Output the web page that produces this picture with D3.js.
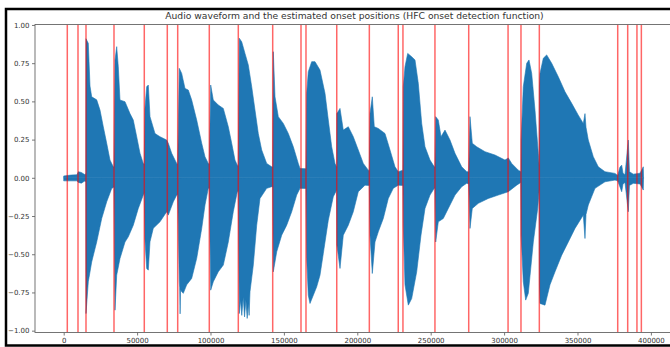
<!DOCTYPE html>
<html>
<head>
<meta charset="utf-8">
<script src="https://cdn.jsdelivr.net/npm/d3@7"></script>
<style>
  body { margin: 0; background: #fff; }
  text { font-family: "DejaVu Sans", sans-serif; }
</style>
</head>
<body>
<div id="chart"></div>
<script>
// waveform envelope: [sample index, amplitude]
let upperEnvelope = [
  [0, 0.012], [5000, 0.018], [9000, 0.02], [10000, 0.04], [12000, 0.035], [14500, 0.02], [15100, 0.03],
  [15200, 0.91], [16760, 0.88], [17920, 0.6], [19070, 0.53], [22480, 0.51], [24730, 0.443],
  [26980, 0.334], [29290, 0.226], [31540, 0.116], [33790, 0.072],
  [34250, 0.07], [34950, 0.77], [36100, 0.858], [37190, 0.727], [38350, 0.509], [41760, 0.498],
  [45160, 0.42], [47410, 0.378], [49730, 0.269], [51980, 0.16], [54220, 0.094],
  [54900, 0.09], [55300, 0.45], [56540, 0.596], [57630, 0.607], [58790, 0.4], [62190, 0.29],
  [65600, 0.269], [70160, 0.247], [71250, 0.226], [73570, 0.16], [76980, 0.094],
  [77660, 0.09], [78750, 0.716], [80380, 0.683], [82630, 0.585], [84880, 0.574], [87190, 0.509],
  [90600, 0.378], [94010, 0.226], [96250, 0.138], [98500, 0.094],
  [99180, 0.09], [100140, 0.607], [101910, 0.509], [105310, 0.476], [108720, 0.454],
  [112130, 0.334], [114440, 0.226], [116690, 0.116], [118260, 0.083],
  [118940, 0.08], [119620, 0.913], [121250, 0.89], [123500, 0.814], [125750, 0.738],
  [128070, 0.596], [130310, 0.443], [132560, 0.29], [134880, 0.182], [138280, 0.094], [141690, 0.072],
  [142370, 0.07], [142780, 0.825], [143940, 0.53], [146190, 0.4], [149590, 0.356], [153000, 0.29],
  [156410, 0.203], [159810, 0.094], [160970, 0.061], [165050, 0.06],
  [165530, 0.553], [166620, 0.694], [167780, 0.727], [168940, 0.76], [171190, 0.76], [174590, 0.705],
  [178000, 0.553], [180250, 0.378], [182560, 0.203], [184810, 0.094],
  [186000, 0.07], [186100, 0.42], [188220, 0.454], [190460, 0.312], [193870, 0.334],
  [197270, 0.269], [200680, 0.182], [204090, 0.094], [207500, 0.05],
  [208200, 0.05], [208650, 0.42], [210220, 0.53], [211580, 0.334], [214310, 0.323], [218870, 0.29],
  [222280, 0.182], [225680, 0.072], [227930, 0.04], [231100, 0.05],
  [231340, 0.596], [232490, 0.727], [234330, 0.814], [237060, 0.792], [239310, 0.771],
  [241560, 0.618], [243870, 0.356], [246120, 0.203], [249530, 0.116], [252450, 0.072],
  [252900, 0.07], [253410, 0.4], [255180, 0.378], [257020, 0.269], [259740, 0.312], [263150, 0.247],
  [266560, 0.16], [271120, 0.072], [274520, 0.04],
  [275900, 0.04], [276770, 0.4], [278340, 0.226], [281340, 0.203], [286990, 0.171], [293800, 0.149],
  [300610, 0.116], [302860, 0.13], [305180, 0.094], [309670, 0.05], [311500, 0.04],
  [311600, 0.247], [313080, 0.596], [315400, 0.749], [316960, 0.771], [318800, 0.683],
  [321050, 0.443], [323300, 0.16], [323900, 0.08],
  [324100, 0.6], [324460, 0.683], [326700, 0.782], [329020, 0.804], [332430, 0.749], [336920, 0.661],
  [341490, 0.563], [346050, 0.487], [350540, 0.41], [353950, 0.356], [355110, 0.42], [355800, 0.33],
  [357360, 0.247], [360760, 0.138], [364170, 0.072], [368730, 0.04], [375540, 0.029],
  [377380, 0.015], [378950, 0.07], [380110, 0.083], [381000, 0.03], [382360, 0.02], [384610, 0.247],
  [385400, 0.04], [388000, 0.024], [392600, 0.03], [394820, 0.072], [395000, 0]
];

let lowerEnvelope = [
  [0, -0.02], [5000, -0.02], [9000, -0.02], [10000, -0.03], [12000, -0.035], [14500, -0.02], [15100, -0.03],
  [15200, -0.888], [16760, -0.68], [19070, -0.55], [22480, -0.42], [25890, -0.266], [29290, -0.157],
  [32700, -0.07],
  [34250, -0.06], [34950, -0.866], [36100, -0.637], [38350, -0.528], [41760, -0.42], [44010, -0.386],
  [47410, -0.31], [50820, -0.2], [54220, -0.113],
  [54900, -0.1], [55300, -0.4], [56540, -0.593], [57630, -0.604], [58790, -0.418], [61040, -0.33],
  [65600, -0.288], [70160, -0.222], [71250, -0.244], [74660, -0.157], [76980, -0.113],
  [77660, -0.11], [78750, -0.68], [79000, -0.72], [79300, -0.89], [79600, -0.73], [80380, -0.745],
  [81470, -0.756], [83790, -0.7], [87190, -0.658], [90600, -0.527], [94010, -0.331], [96250, -0.178],
  [98500, -0.069],
  [99180, -0.07], [100140, -0.735], [101910, -0.68], [105310, -0.615], [108720, -0.571],
  [112130, -0.42], [115530, -0.222], [118260, -0.091],
  [118940, -0.09], [119620, -0.888], [120500, -0.8], [121300, -0.9], [122300, -0.78], [123200, -0.91],
  [124100, -0.8], [125000, -0.92], [125750, -0.82], [126300, -0.9], [126910, -0.745], [129160, -0.571],
  [131470, -0.31], [133720, -0.135], [138280, -0.069], [141690, -0.058],
  [142370, -0.06], [142780, -0.615], [145100, -0.484], [148500, -0.375], [151910, -0.31],
  [155310, -0.222], [158720, -0.113], [160970, -0.069], [165050, -0.07],
  [165530, -0.527], [166620, -0.768], [167780, -0.822], [172340, -0.713], [174590, -0.637],
  [176840, -0.495], [180250, -0.277], [183650, -0.124], [185970, -0.08],
  [186100, -0.44], [188220, -0.593], [190460, -0.375], [193870, -0.31], [197270, -0.222],
  [200680, -0.091], [205250, -0.048],
  [208200, -0.05], [208650, -0.375], [210220, -0.626], [212060, -0.42], [214310, -0.353],
  [217710, -0.266], [221120, -0.135], [224520, -0.069], [227930, -0.048], [231100, -0.05],
  [231340, -0.31], [232490, -0.7], [234750, -0.833], [237060, -0.79], [240460, -0.615],
  [243390, -0.375], [246120, -0.2], [249530, -0.113], [252450, -0.069],
  [252900, -0.07], [253410, -0.42], [255180, -0.288], [258580, -0.266], [261990, -0.2],
  [266560, -0.113], [271120, -0.058], [274520, -0.036],
  [275900, -0.04], [276770, -0.331], [278340, -0.2], [282430, -0.167], [289240, -0.135],
  [296050, -0.113], [302860, -0.091], [308580, -0.048], [311400, -0.03],
  [311600, -0.375], [313080, -0.68], [314710, -0.8], [316490, -0.756], [319900, -0.42],
  [322890, -0.2], [323900, -0.08],
  [324100, -0.7], [324460, -0.822], [327860, -0.833], [331270, -0.7], [334680, -0.615],
  [339240, -0.506], [343730, -0.42], [348300, -0.331], [353950, -0.244], [355110, -0.397],
  [355800, -0.24], [357360, -0.178], [361920, -0.069], [368730, -0.026], [375540, -0.015],
  [377380, -0.02], [378950, -0.06], [380110, -0.091], [381000, -0.04], [382360, -0.03],
  [384610, -0.222], [385400, -0.05], [388000, -0.036], [392600, -0.04], [394820, -0.08], [395000, 0]
];

// estimated onset positions (samples)
let onsets = [2450, 9740, 15190, 34260, 54900, 70570, 77660, 99180, 118940, 142370,
  161650, 165050, 186000, 208200, 227900, 231100, 252900, 275900, 302700, 311500,
  324000, 377400, 384200, 390500, 393500];

let xTicks = [0, 50000, 100000, 150000, 200000, 250000, 300000, 350000, 400000];
let yTicks = [-1.0, -0.75, -0.5, -0.25, 0.0, 0.25, 0.5, 0.75, 1.0];
let title = "Audio waveform and the estimated onset positions (HFC onset detection function)";

let W = 670, H = 347;
let plot = {left: 35, right: 674, top: 24.5, bottom: 332.5};

let svg = d3.select("#chart")
    .append("svg")
    .attr("width", W)
    .attr("height", H);

let x = d3.scaleLinear().domain([-19550, 415740]).range([plot.left, plot.right]);
let y = d3.scaleLinear().domain([-1.012, 1.003]).range([plot.bottom, plot.top]);

svg.append("clipPath").attr("id", "plotclip")
    .append("rect")
    .attr("x", plot.left).attr("y", plot.top)
    .attr("width", plot.right - plot.left).attr("height", plot.bottom - plot.top);

let g = svg.append("g").attr("clip-path", "url(#plotclip)");

let area = d3.area()
    .x(function(d) { return x(d[0]); })
    .y0(y(0))
    .y1(function(d) { return y(d[1]); });

g.append("path")
    .datum(upperEnvelope)
    .attr("fill", "#1f77b4")
    .attr("stroke", "#1f77b4")
    .attr("stroke-width", 0.6)
    .attr("d", area);

g.append("path")
    .datum(lowerEnvelope)
    .attr("fill", "#1f77b4")
    .attr("stroke", "#1f77b4")
    .attr("stroke-width", 0.6)
    .attr("d", area);

// onset markers (axvline)
g.selectAll(".onset")
    .data(onsets)
    .enter().append("line")
    .attr("class", "onset")
    .attr("x1", function(d) { return x(d); })
    .attr("x2", function(d) { return x(d); })
    .attr("y1", plot.top)
    .attr("y2", plot.bottom)
    .attr("stroke", "red")
    .attr("stroke-opacity", 0.6)
    .attr("stroke-width", 1.5);

// axes
let xAxis = d3.axisBottom(x)
    .tickValues(xTicks)
    .tickFormat(d3.format("d"))
    .tickSize(3)
    .tickPadding(2.5);

let yAxis = d3.axisLeft(y)
    .tickValues(yTicks)
    .tickFormat(d3.format(".2f"))
    .tickSize(3)
    .tickPadding(2.5);

let gx = svg.append("g")
    .attr("transform", "translate(0," + plot.bottom + ")")
    .call(xAxis);

let gy = svg.append("g")
    .attr("transform", "translate(" + plot.left + ",0)")
    .call(yAxis);

[gx, gy].forEach(function(a) {
  a.select(".domain").remove();
  a.selectAll(".tick line").attr("stroke", "#555").attr("stroke-width", 0.8);
  a.selectAll(".tick text").attr("fill", "#333").style("font-size", "7px");
});

// spines
svg.append("rect")
    .attr("x", plot.left)
    .attr("y", plot.top)
    .attr("width", plot.right - plot.left)
    .attr("height", plot.bottom - plot.top)
    .attr("fill", "none")
    .attr("stroke", "#666")
    .attr("stroke-width", 0.9);

svg.append("text")
    .attr("x", (plot.left + plot.right) / 2)
    .attr("y", 19)
    .attr("text-anchor", "middle")
    .attr("fill", "#333")
    .style("font-size", "9.2px")
    .text(title);

// black frame around the screenshot
svg.append("rect")
    .attr("x", 6)
    .attr("y", 9)
    .attr("width", 700)
    .attr("height", 336.5)
    .attr("fill", "none")
    .attr("stroke", "#000")
    .attr("stroke-width", 2.5);
</script>
</body>
</html>
